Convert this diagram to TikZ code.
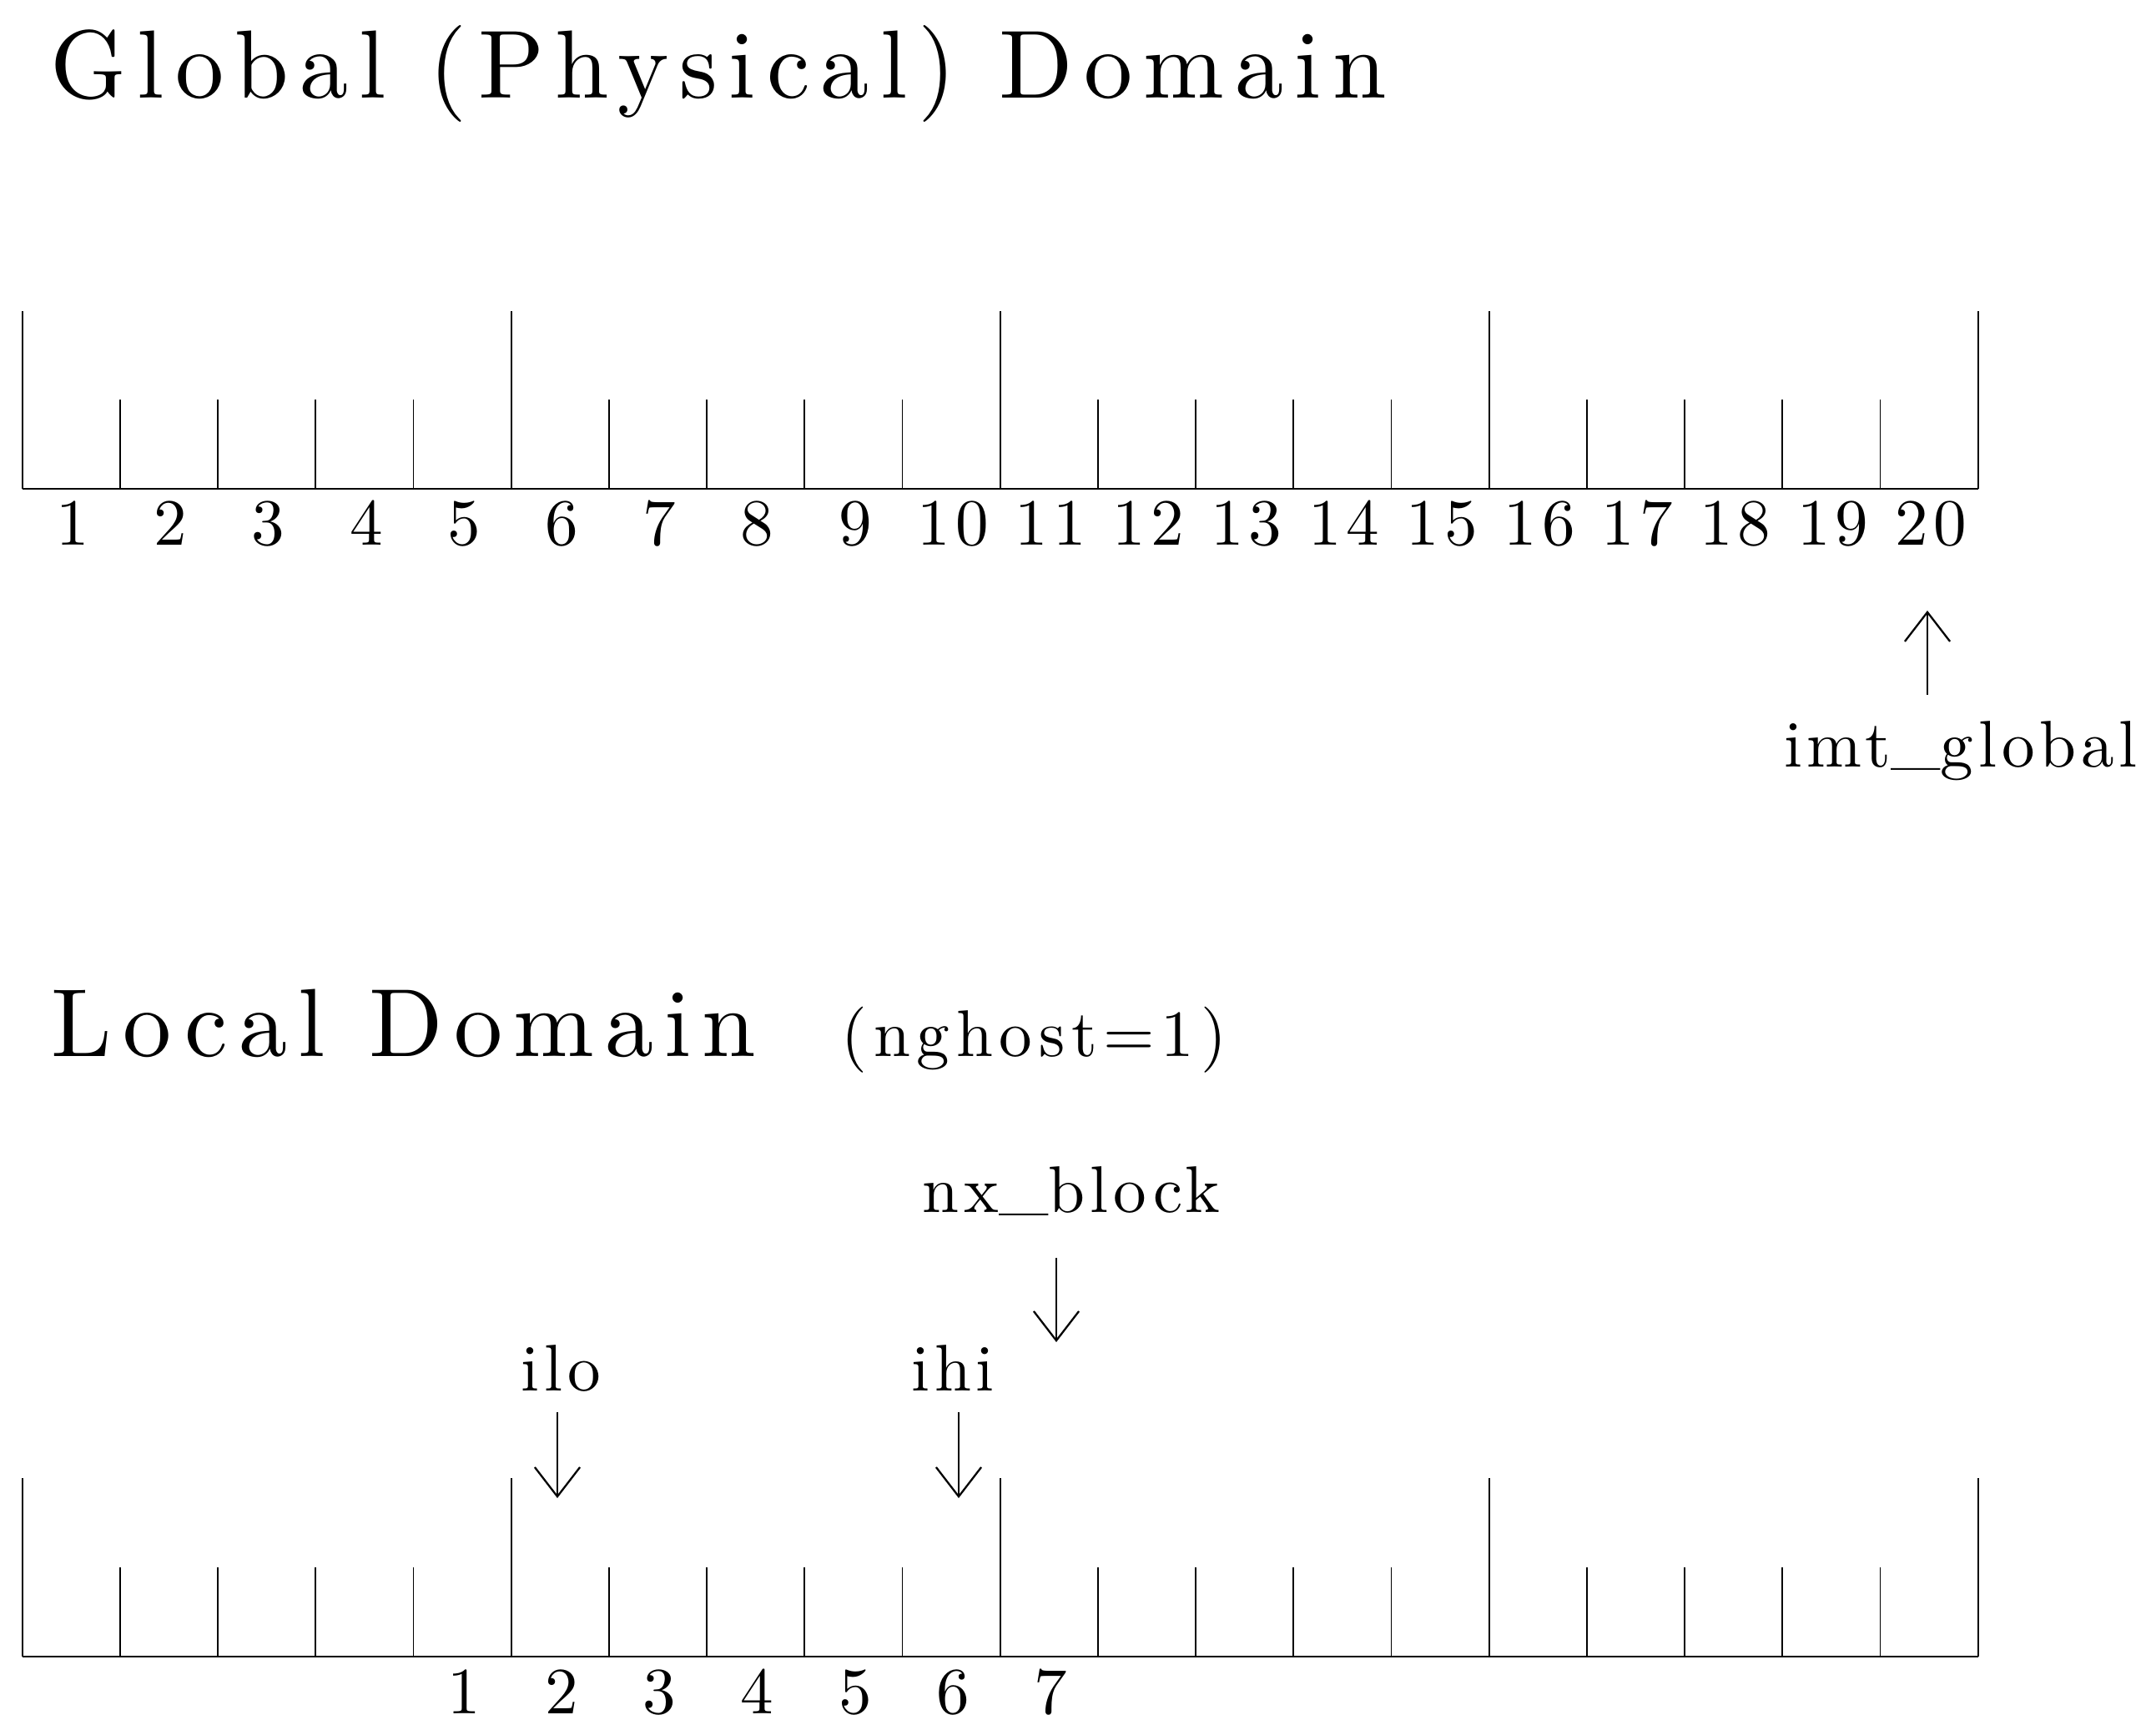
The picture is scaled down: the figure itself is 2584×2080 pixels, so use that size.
\documentclass[tikz,border=0pt]{standalone}
\usepackage{fontspec}
\usetikzlibrary{arrows.meta}
\newfontfamily\ttlface[LetterSpace=11.4]{lmroman10-regular.otf}
\newfontfamily\labface[LetterSpace=7.5]{lmroman10-regular.otf}
\newfontfamily\nghface[LetterSpace=9.75]{lmroman10-regular.otf}
\newcommand\titlefnt{\ttlface\fontsize{33pt}{40pt}\selectfont}
\newcommand\labfnt{\labface\fontsize{22.5pt}{27pt}\selectfont}
\newcommand\nghfnt{\nghface\fontsize{22.5pt}{27pt}\selectfont}
\newcommand\usc{\raisebox{0.1em}{\_}}
\tikzset{
  tick/.style={line width=0.55pt},
  axis/.style={line width=0.7pt},
  arr/.style={line width=0.65pt,-{Straight Barb[length=10pt,width=15.4pt]}},
  ttl/.style={anchor=base west,inner sep=0pt,font=\titlefnt},
  lab/.style={anchor=base,inner sep=0pt,font=\labfnt},
}
\begin{document}
\begin{tikzpicture}[x=0.01cm,y=-0.01cm]
\useasboundingbox (0,0) rectangle (2584,2080);
% titles
\node[ttl] (gtitle) at (60,118) {Global (Physical) Domain};
\node[ttl] (ltitle) at (61,1267) {Local Domain};
\node[lab,anchor=base west,font=\nghfnt] (ngh) at (1008,1267) {(nghost=1)};
% top ruler
\coordinate (t0) at (26.7,586);
\coordinate (t20) at (2370.7,586);
\foreach \i in {0,...,20}{
  \pgfmathsetmacro{\xx}{26.7+\i*117.2}
  \pgfmathtruncatemacro{\m}{mod(\i,5)}
  \ifnum\m=0
    \draw[tick] (\xx,586) -- (\xx,373);
  \else
    \draw[tick] (\xx,586) -- (\xx,479);
  \fi
}
\draw[axis] (t0) -- (t20);
\foreach \i in {1,...,20}{
  \pgfmathsetmacro{\xx}{26.7+(\i-0.5)*117.2+2}
  \node[lab] (g\i) at (\xx,654) {\i};
}
% bottom ruler
\coordinate (b0) at (26.7,1986);
\coordinate (b20) at (2370.7,1986);
\foreach \i in {0,...,20}{
  \pgfmathsetmacro{\xx}{26.7+\i*117.2}
  \pgfmathtruncatemacro{\m}{mod(\i,5)}
  \ifnum\m=0
    \draw[tick] (\xx,1986) -- (\xx,1772);
  \else
    \draw[tick] (\xx,1986) -- (\xx,1879);
  \fi
}
\draw[axis] (b0) -- (b20);
\foreach \i in {1,...,7}{
  \pgfmathsetmacro{\xx}{26.7+(\i+3.5)*117.2+2}
  \node[lab] (l\i) at (\xx,2054) {\i};
}
% labels and arrows
\node[lab] (imt) at (2350,920) {imt\usc global};
\node[lab] (nxb) at (1284,1454) {nx\usc block};
\node[lab] (ilo) at (672,1667) {ilo};
\node[lab] (ihi) at (1142,1667) {ihi};
\coordinate (imtS) at (2310,833);
\coordinate (imtE) at (2310,732);
\coordinate (nxS) at (1266,1508);
\coordinate (nxE) at (1266,1609);
\coordinate (iloS) at (668,1693);
\coordinate (iloE) at (668,1796);
\coordinate (ihiS) at (1149,1693);
\coordinate (ihiE) at (1149,1796);
\draw[arr] (imtS) -- (imtE);
\draw[arr] (nxS) -- (nxE);
\draw[arr] (iloS) -- (iloE);
\draw[arr] (ihiS) -- (ihiE);
\end{tikzpicture}
\end{document}
